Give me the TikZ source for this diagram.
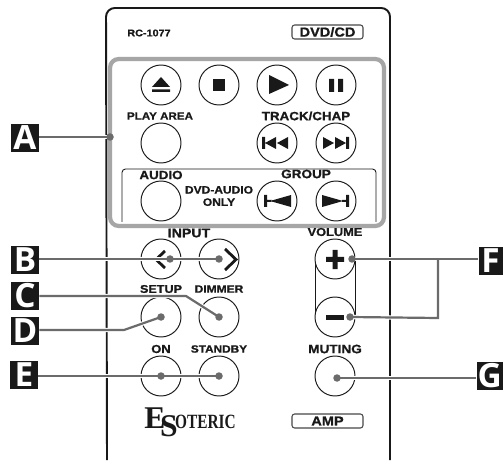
\documentclass[tikz,border=0pt]{standalone}
\usepackage{graphicx}
\usepackage{fontspec}
\setmainfont[FakeStretch=1.12,FakeBold=1]{Liberation Sans}
\newfontfamily\tagfont{Open Sans}
\newfontfamily\logofont{Liberation Serif}
\usetikzlibrary{calc}
\definecolor{leader}{gray}{0.42}
\definecolor{ink}{gray}{0.1}
\newdimen\pxu
\pxu=0.02cm
\tikzset{
  x=0.02cm,y=-0.02cm,
  btn/.style={circle,draw=ink,line width=0.55pt,minimum size=40\pxu,inner sep=0pt,fill=white},
  lbl/.style={font=\bfseries\fontsize{#1}{7}\selectfont,text=ink,inner sep=0pt,align=center},
  tagbox/.style={fill=ink,text=white,inner sep=0pt,font=\tagfont\bfseries\fontsize{19}{19}\selectfont,minimum height=28\pxu},
  wire/.style={draw=leader,line width=1.25pt},
  halo/.style={draw=white,line width=2.5pt},
  dot/.style={circle,fill=leader,inner sep=0pt,minimum size=7.5\pxu},
  glyph/.style={fill=ink,draw=none},
  modebox/.style={draw=ink!80,rounded corners=1.5pt,line width=0.6pt,minimum width=71\pxu,minimum height=14\pxu,inner sep=0pt,font=\bfseries\fontsize{7.4}{8}\selectfont,text=ink}
}
\begin{document}
\begin{tikzpicture}
\useasboundingbox (0,0) rectangle (503,462);
\fill[white] (0,0) rectangle (503,462);
% body
\draw[ink,line width=1.1pt,rounded corners=5pt] (107,460) -- (106,8) -- (390,8) -- (390,460);
% labels top
\node[lbl=5.5] (model) at (149,33) {RC-1077};
\node[modebox] (dvd) at (327.5,32) {DVD/CD};
% panels
\draw[ink,line width=0.5pt,rounded corners=2pt] (122,222) -- (122,169) -- (376,169) -- (376,222);
\draw[gray!70!white,line width=2.4pt,rounded corners=5pt] (110,59) rectangle (384,226);
% buttons
\node[btn] (eject) at (161,85) {};
\node[btn] (stop) at (219,85) {};
\node[btn] (play) at (277,85) {};
\node[btn] (pause) at (336,85) {};
\node[btn] (area) at (161,143) {};
\node[btn] (prevt) at (277,143) {};
\node[btn] (nextt) at (336,143) {};
\node[btn] (audio) at (161,201) {};
\node[btn] (prevg) at (277,201) {};
\node[btn] (nextg) at (336,201) {};
% pill
\draw[ink,line width=0.55pt] (315,259) -- (315,317) (355,259) -- (355,317);
\node[btn] (inl) at (161,259) {};
\node[btn] (inr) at (219,259) {};
\node[btn] (setup) at (161,317) {};
\node[btn] (dimmer) at (219,317) {};
\node[btn] (on) at (161,376) {};
\node[btn] (standby) at (219,376) {};
\node[btn] (plus) at (335,259) {};
\node[btn] (minus) at (335,317) {};
\node[btn] (muting) at (335,376) {};
% glyphs
\fill[glyph] (152,87) -- (161,77) -- (170,87) -- cycle (152,89.5) rectangle (170,92);
\fill[glyph] (213,79) rectangle (225,91);
\fill[glyph] (269,75) -- (289,85) -- (269,94) -- cycle;
\fill[glyph] (329,79) rectangle (334,92) (338,79) rectangle (343,92);
\fill[glyph] (262,137) rectangle (265,149) (265,143) -- (276,137) -- (276,149) -- cycle (277,143) -- (288,137) -- (288,149) -- cycle;
\fill[glyph] (349,137) rectangle (346,149) (346,143) -- (335,137) -- (335,149) -- cycle (334,143) -- (323,137) -- (323,149) -- cycle;
\fill[glyph] (267,195) -- (267,207) -- (264,207) -- (264,195) -- cycle (267,200) rectangle (272,202) (270,201) -- (291,195) -- (291,207) -- cycle;
\fill[glyph] (346,195) rectangle (349,207) (346,200) rectangle (342,202) (343,201) -- (322,195) -- (322,207) -- cycle;
\draw[ink,line width=1.6pt] (225,249) -- (236,259.5) -- (225,270);
\draw[ink,line width=1.6pt] (165,251) -- (156,259.5) -- (165,268);
\fill[glyph] (326,257) rectangle (344,262) (332.5,250) rectangle (337.5,269);
\fill[glyph] (326,315) rectangle (344,320);
% text labels
\node[lbl=5.9] (lplay) at (160,116) {PLAY AREA};
\node[lbl=6.8] (ltrack) at (306,116) {TRACK/CHAP};
\node[lbl=6.8] (laudio) at (161,175) {AUDIO};
\node[lbl=6.9] (lgroup) at (306,174) {GROUP};
\node[lbl=6.1] (lonly) at (219,196) {DVD-AUDIO\\ONLY};
\node[lbl=7.2] (linput) at (189,233) {INPUT};
\node[lbl=6.5] (lvol) at (335,232) {VOLUME};
\node[lbl=6.4] (lsetup) at (161,289) {SETUP};
\node[lbl=6.1] (ldim) at (219,289) {DIMMER};
\node[lbl=6.6] (lon) at (161,349) {ON};
\node[lbl=6.0] (lstand) at (219,349) {STANDBY};
\node[lbl=6.9] (lmute) at (335,349) {MUTING};
\node[modebox] (amp) at (327.5,421) {AMP};
% logo
\node[inner sep=0pt,text=ink,anchor=base west] (logo) at (144,428) {\logofont\bfseries\fontsize{18}{18}\selectfont E\hspace{-3pt}\raisebox{-5pt}{S}\hspace{-1.5pt}\fontsize{11.5}{12}\selectfont \scalebox{0.76}[1]{OTERIC}};
% tags
\node[tagbox,minimum width=28\pxu] (A) at (25,138) {A};
\node[tagbox,minimum width=28\pxu] (B) at (25,260) {B};
\node[tagbox,minimum width=28\pxu] (C) at (25,296) {C};
\node[tagbox,minimum width=28\pxu] (D) at (25,331) {D};
\node[tagbox,minimum width=28\pxu] (E) at (24,375) {E};
\node[tagbox,minimum width=24\pxu,anchor=east] (F) at (503,261) {F};
\node[tagbox,minimum width=26\pxu,anchor=east] (G) at (503,376) {G};
% connector ends
\coordinate (ca) at (110,137);
\coordinate (cc) at (186,296);
\coordinate (cd) at (124,330);
\coordinate (cf) at (438,259);
\coordinate (cfb) at (438,318);
\coordinate (cgs) at (337,378);
% halos
\path[halo] (A.east |- ca) -- (ca);
\path[halo] (B.east |- inr) -- (inr.center);
\path[halo] (C.east) -- (cc) -- (dimmer.center);
\path[halo] (D.east |- cd) -- (cd) -- (setup.center);
\path[halo] (E.east |- on) -- (standby.center);
\path[halo] (F.west |- plus) -- ($(plus.center)+(17,0)$);
\path[halo] (cf) -- (cfb) -- ($(minus.center)+(15,0)$);
\path[halo] (G.west |- cgs) -- (cgs);
% wires
\path[wire] (A.east |- ca) -- (ca);
\path[wire] (B.east |- inr) -- (inr.center);
\path[wire] (C.east) -- (cc) -- (dimmer.center);
\path[wire] (D.east |- cd) -- (cd) -- (setup.center);
\path[wire] (E.east |- on) -- (standby.center);
\path[wire] (F.west |- plus) -- ($(plus.center)+(17,0)$);
\path[wire] (cf) -- (cfb) -- ($(minus.center)+(15,0)$);
\path[wire] (G.west |- cgs) -- (cgs);
% dots
\node[dot] at (ca) {};
\node[dot] at (170,259) {};
\node[dot] at (inr.center) {};
\node[dot] at (dimmer.center) {};
\node[dot] at (setup.center) {};
\node[dot] at (on.center) {};
\node[dot] at (standby.center) {};
\node[dot] at ($(plus.center)+(17,0)$) {};
\node[dot] at ($(minus.center)+(15,0)$) {};
\node[dot] at (cgs) {};
\end{tikzpicture}
\end{document}
